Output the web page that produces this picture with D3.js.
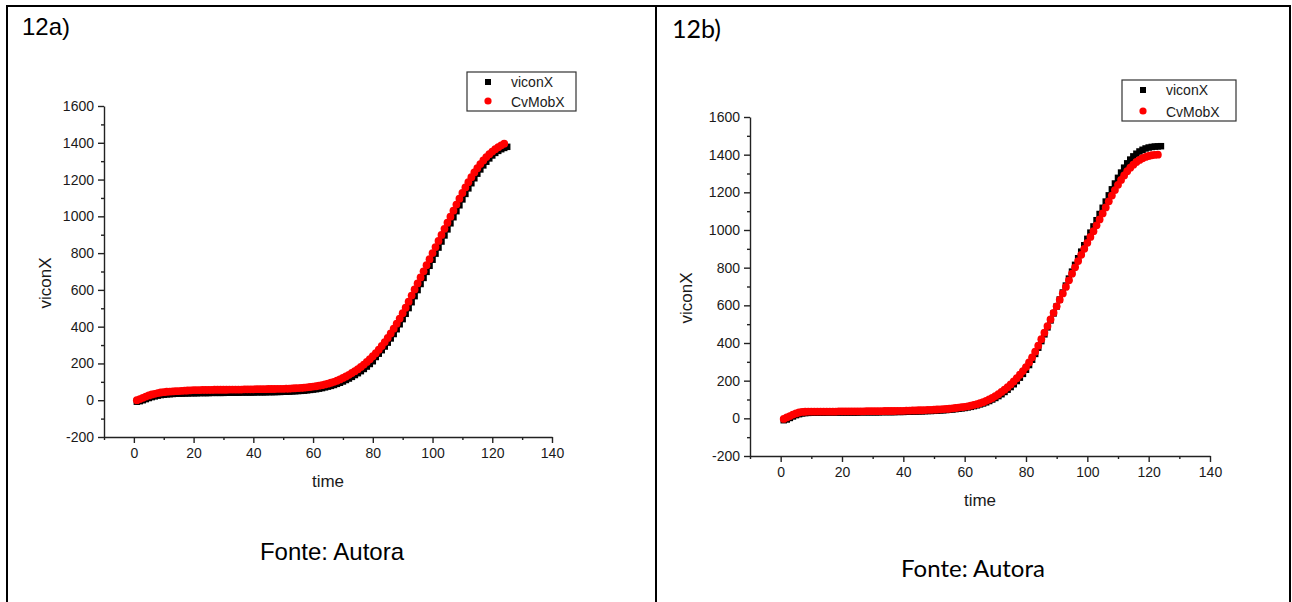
<!DOCTYPE html>
<html>
<head>
<meta charset="utf-8">
<script src="https://cdn.jsdelivr.net/npm/d3@7"></script>
<style>
  body { margin: 0; background: #fff; }
  .tick text { font-family: "Liberation Sans", Arial, sans-serif; font-size: 14px; fill: #1a1a1a; }
  .axis path, .axis line { stroke: #222; }
</style>
</head>
<body>
<svg id="fig" width="1292" height="602"></svg>
<script>
// tick labels
const xTickValues = [0, 20, 40, 60, 80, 100, 120, 140];
const xMinorValues = [-10, 10, 30, 50, 70, 90, 110, 130];
const yTickValues = [-200, 0, 200, 400, 600, 800, 1000, 1200, 1400, 1600];
const yMinorValues = [-100, 100, 300, 500, 700, 900, 1100, 1300, 1500];
const seriesNames = ['viconX', 'CvMobX'];

// 12a) values, one per time step starting at t = 1
const viconA = [
  -8, -5, 0, 6, 12, 17, 21, 25, 28, 30,
  32, 33, 34, 35, 36, 36, 37, 37, 38, 38,
  38, 39, 39, 39, 39, 40, 40, 40, 40, 40,
  41, 41, 41, 41, 41, 42, 42, 42, 42, 42,
  43, 43, 43, 43, 44, 44, 44, 45, 45, 46,
  46, 47, 48, 49, 50, 51, 52, 54, 56, 58,
  60, 63, 66, 70, 74, 78, 83, 89, 95, 102,
  110, 118, 127, 137, 147, 158, 170, 183, 197, 212,
  235, 253, 272, 292, 313, 336, 360, 386, 413, 441,
  470, 501, 533, 566, 599, 632, 665, 698, 731, 764,
  797, 830, 863, 896, 929, 962, 995, 1028, 1060, 1092,
  1122, 1152, 1180, 1207, 1232, 1255, 1277, 1297, 1315, 1331,
  1345, 1356, 1365, 1372, 1378
];
const cvmobA = [
  0, 6, 13, 20, 26, 31, 35, 39, 42, 44,
  46, 47, 48, 49, 50, 51, 52, 53, 54, 55,
  55, 55, 56, 56, 56, 56, 57, 57, 57, 57,
  57, 58, 58, 58, 58, 58, 59, 59, 59, 59,
  60, 60, 60, 60, 61, 61, 61, 62, 62, 62,
  63, 63, 64, 65, 66, 67, 68, 70, 72, 74,
  76, 79, 82, 86, 90, 95, 100, 106, 113, 121,
  129, 138, 148, 158, 169, 181, 194, 208, 223, 239,
  256, 275, 295, 316, 339, 363, 389, 416, 444, 473,
  503, 536, 569, 602, 635, 668, 701, 734, 767, 800,
  833, 866, 899, 932, 965, 998, 1031, 1064, 1096, 1127,
  1157, 1186, 1213, 1239, 1262, 1284, 1304, 1322, 1338, 1352,
  1365, 1376, 1386, 1395
];

// 12b) values
const viconB = [
  -10, -6, 2, 10, 17, 22, 26, 28, 29, 30,
  30, 30, 30, 30, 31, 31, 31, 31, 31, 31,
  31, 31, 31, 31, 31, 32, 32, 32, 32, 32,
  32, 32, 33, 33, 33, 33, 33, 34, 34, 34,
  35, 35, 36, 36, 37, 37, 38, 39, 39, 40,
  41, 42, 43, 44, 46, 47, 49, 51, 53, 55,
  58, 61, 65, 69, 74, 79, 85, 92, 100, 108,
  118, 128, 140, 152, 166, 181, 198, 216, 236, 258,
  283, 311, 342, 375, 410, 446, 483, 520, 557, 594,
  631, 668, 705, 742, 779, 815, 850, 885, 919, 953,
  986, 1019, 1052, 1085, 1118, 1151, 1184, 1216, 1247, 1277,
  1305, 1331, 1354, 1374, 1391, 1405, 1417, 1426, 1433, 1438,
  1441, 1443, 1444, 1445
];
const cvmobB = [
  -3, 5, 12, 20, 26, 31, 34, 35, 36, 36,
  36, 36, 36, 36, 36, 36, 36, 36, 37, 37,
  37, 37, 37, 37, 37, 37, 37, 38, 38, 38,
  38, 38, 38, 39, 39, 39, 39, 40, 40, 40,
  41, 41, 42, 42, 43, 43, 44, 45, 45, 46,
  47, 48, 49, 50, 51, 53, 55, 57, 59, 61,
  64, 67, 71, 75, 80, 86, 93, 100, 108, 118,
  128, 140, 152, 165, 180, 196, 213, 232, 251, 272,
  297, 324, 354, 386, 420, 455, 490, 525, 560, 595,
  629, 663, 698, 733, 768, 802, 835, 868, 900, 932,
  963, 994, 1025, 1056, 1088, 1120, 1152, 1183, 1212, 1240,
  1266, 1290, 1312, 1331, 1347, 1361, 1372, 1381, 1388, 1393,
  1397, 1399, 1400
];

const svg = d3.select('#fig');
svg.append('rect').attr('width', 1292).attr('height', 602).attr('fill', '#fff');

// table borders
const border = svg.append('g').attr('stroke', '#000').attr('stroke-width', 2);
border.append('line').attr('x1', 6).attr('x2', 1291).attr('y1', 6).attr('y2', 6);
border.append('line').attr('x1', 7).attr('x2', 7).attr('y1', 5).attr('y2', 602);
border.append('line').attr('x1', 656).attr('x2', 656).attr('y1', 5).attr('y2', 602);
border.append('line').attr('x1', 1290).attr('x2', 1290).attr('y1', 5).attr('y2', 602);

function drawPanel(cfg) {
    const x = d3.scaleLinear().domain([-10, 140]).range(cfg.xRange);
    const y = d3.scaleLinear().domain([-200, 1600]).range(cfg.yRange);
    const g = svg.append('g');

    // panel label
    g.append('text')
        .attr('x', cfg.label[0]).attr('y', cfg.label[1])
        .style('font-family', cfg.docFont)
        .style('font-size', cfg.labelSize + 'px')
        .attr('fill', '#000')
        .text(cfg.title);

    // minor ticks
    g.append('g').attr('class', 'axis')
        .attr('transform', `translate(0,${cfg.yRange[0]})`)
        .call(d3.axisBottom(x).tickValues(xMinorValues).tickSize(3).tickSizeOuter(0).tickFormat(''))
        .call(a => a.select('.domain').remove());
    g.append('g').attr('class', 'axis')
        .attr('transform', `translate(${cfg.xRange[0]},0)`)
        .call(d3.axisLeft(y).tickValues(yMinorValues).tickSize(3).tickSizeOuter(0).tickFormat(''))
        .call(a => a.select('.domain').remove());

    // major axes (plain numbers, ascii minus)
    g.append('g').attr('class', 'axis')
        .attr('transform', `translate(0,${cfg.yRange[0]})`)
        .call(d3.axisBottom(x).tickValues(xTickValues).tickSize(6).tickSizeOuter(0).tickPadding(5).tickFormat(d => String(d)));
    g.append('g').attr('class', 'axis')
        .attr('transform', `translate(${cfg.xRange[0]},0)`)
        .call(d3.axisLeft(y).tickValues(yTickValues).tickSize(6).tickSizeOuter(0).tickPadding(4).tickFormat(d => String(d)));
    g.selectAll('.axis path, .axis line').attr('stroke-width', 1.4);

    // axis titles
    g.append('text')
        .attr('x', (cfg.xRange[0] + cfg.xRange[1]) / 2)
        .attr('y', cfg.yRange[0] + 50)
        .attr('text-anchor', 'middle')
        .style('font-family', '"Liberation Sans", Arial, sans-serif')
        .style('font-size', '17px')
        .attr('fill', '#1a1a1a')
        .text('time');
    g.append('text')
        .attr('transform', `translate(${cfg.yTitle[0]},${cfg.yTitle[1]}) rotate(-90)`)
        .attr('text-anchor', 'middle')
        .style('font-family', '"Liberation Sans", Arial, sans-serif')
        .style('font-size', '17px')
        .attr('fill', '#1a1a1a')
        .text('viconX');

    // black squares underneath, red circles on top
    g.append('g').selectAll('path')
        .data(cfg.vicon)
        .join('path')
        .attr('transform', (d, i) => `translate(${x(i + 1)},${y(d)})`)
        .attr('d', d3.symbol().type(d3.symbolSquare).size(42))
        .attr('fill', '#000');
    g.append('g').selectAll('circle')
        .data(cfg.cvmob)
        .join('circle')
        .attr('cx', (d, i) => x(i + 1))
        .attr('cy', d => y(d))
        .attr('r', 3.9)
        .attr('fill', '#ff0000');

    // legend
    const lg = g.append('g').attr('transform', `translate(${cfg.legend[0]},${cfg.legend[1]})`);
    lg.append('rect')
        .attr('width', cfg.legend[2]).attr('height', cfg.legend[3])
        .attr('fill', '#fff').attr('stroke', '#333').attr('stroke-width', 1.2);
    lg.append('rect').attr('x', 18).attr('y', 7).attr('width', 6).attr('height', 6).attr('fill', '#000');
    lg.append('circle').attr('cx', 21).attr('cy', cfg.legend[3] - 10).attr('r', 3.6).attr('fill', '#ff0000');
    seriesNames.forEach((name, i) => {
        lg.append('text')
            .attr('x', 44)
            .attr('y', i === 0 ? 15 : cfg.legend[3] - 4)
            .style('font-family', '"Liberation Sans", Arial, sans-serif')
            .style('font-size', '14px')
            .attr('fill', '#1a1a1a')
            .text(name);
    });

    // source note
    g.append('text')
        .attr('x', cfg.source[0]).attr('y', cfg.source[1])
        .attr('text-anchor', 'middle')
        .style('font-family', cfg.docFont)
        .style('font-size', '24px')
        .attr('fill', '#000')
        .text('Fonte: Autora');
}

drawPanel({
    title: '12a)', label: [22, 35], labelSize: 24,
    docFont: '"Liberation Sans", Arial, sans-serif',
    xRange: [104, 552], yRange: [437, 106],
    yTitle: [51, 283],
    legend: [467, 72, 109, 39],
    source: [332, 560],
    vicon: viconA, cvmob: cvmobA
});
drawPanel({
    title: '12b)', label: [672, 38], labelSize: 25,
    docFont: 'Lato, "Open Sans", sans-serif',
    xRange: [750, 1210], yRange: [456, 117],
    yTitle: [692, 298],
    legend: [1122, 80, 114, 41],
    source: [973, 577],
    vicon: viconB, cvmob: cvmobB
});
</script>
</body>
</html>
